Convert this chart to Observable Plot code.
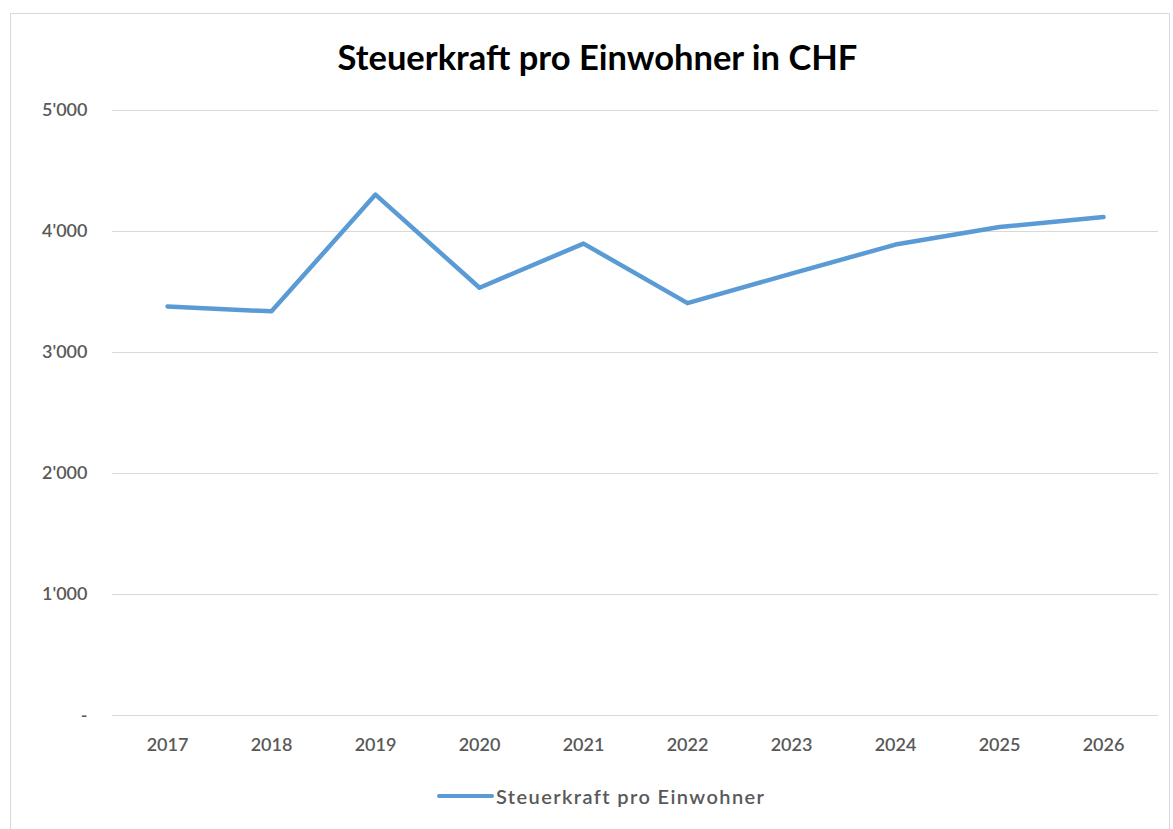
<!DOCTYPE html>
<html>
<head>
<meta charset="utf-8">
<script src="https://cdn.jsdelivr.net/npm/d3@7"></script>
<script src="https://cdn.jsdelivr.net/npm/@observablehq/plot@0.6"></script>
<style>
  html, body { margin: 0; padding: 0; background: #fff; }
  body { width: 1173px; height: 829px; position: relative; overflow: hidden; font-family: Lato, "Open Sans", sans-serif; }
  #frame { position: absolute; left: 10px; top: 13px; width: 1160px; height: 830px; border: 1px solid #d9d9d9; box-sizing: border-box; }
  #title { position: absolute; left: 0; width: 1195px; top: 36px; text-align: center; font-size: 34.5px; font-weight: bold; color: #000; }
  #chart { position: absolute; left: 0; top: 90px; }
  #legend { position: absolute; top: 784px; left: 437px; display: flex; align-items: center; font-size: 20px; letter-spacing: 1.4px; color: #595959; font-weight: 600; }
  #legend .sw { width: 57px; height: 4px; background: #5b9bd5; border-radius: 2px; margin-right: 2px; }
</style>
</head>
<body>
<div id="frame"></div>
<div id="title">Steuerkraft pro Einwohner in CHF</div>
<div id="chart"></div>
<div id="legend"><span class="sw"></span><span id="legtext"></span></div>
<script>
const years = ["2017","2018","2019","2020","2021","2022","2023","2024","2025","2026"];
const values = [3380, 3340, 4305, 3535, 3900, 3408, 3652, 3892, 4037, 4120];
const yTicks = [0, 1000, 2000, 3000, 4000, 5000];
const seriesName = "Steuerkraft pro Einwohner";

const data = years.map((y, i) => ({year: y, value: values[i]}));
const fmt = d => d === 0 ? "-" : d3.format(",")(d).replace(/,/g, "'");

const plot = Plot.plot({
  width: 1173,
  height: 680,
  marginTop: 20,
  marginBottom: 55,
  marginLeft: 112,
  marginRight: 15,
  style: {fontFamily: "Lato, 'Open Sans', sans-serif", fontSize: "18px", fontWeight: 600, color: "#595959", background: "transparent"},
  x: {type: "point", domain: years, padding: 0.5},
  y: {domain: [0, 5000]},
  marks: [
    Plot.gridY(yTicks, {stroke: "#d9d9d9", strokeOpacity: 1, strokeWidth: 1}),
    Plot.axisY(yTicks, {tickSize: 0, tickPadding: 25, tickFormat: fmt, fill: "#595959", label: null, fontSize: 18}),
    Plot.axisX({tickSize: 0, tickPadding: 23, fill: "#595959", label: null, fontSize: 18}),
    Plot.line(data, {x: "year", y: "value", stroke: "#5b9bd5", strokeWidth: 4.5, strokeLinejoin: "round", strokeLinecap: "round"})
  ]
});
document.getElementById("chart").appendChild(plot);
document.getElementById("legtext").textContent = seriesName;
</script>
</body>
</html>
